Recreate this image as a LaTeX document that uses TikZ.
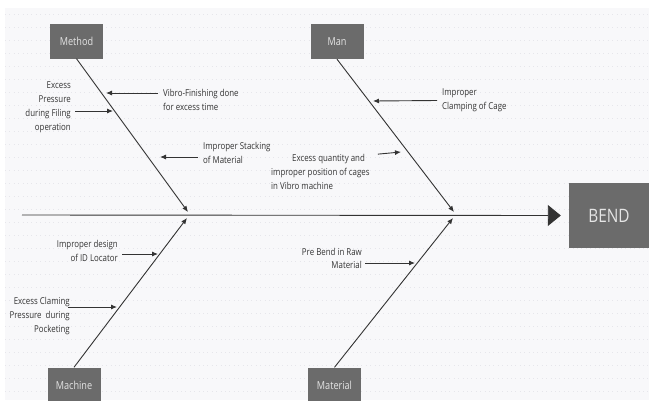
\documentclass[tikz,border=0pt]{standalone}
\usepackage{fontspec}
\setmainfont{Open Sans}[FakeStretch=0.83]
\usepackage{tikz}
\usetikzlibrary{arrows.meta, positioning}
\definecolor{boxgray}{HTML}{6B6B6B}
\definecolor{inkgray}{HTML}{333333}
\definecolor{paper}{HTML}{F8F8FA}
\definecolor{dotgray}{HTML}{E6E6EB}

\begin{document}
\begin{tikzpicture}[x=1pt, y=-1pt,
    catbox/.style={fill=boxgray, text=white!90!black, minimum width=53pt, minimum height=35pt, inner sep=0pt, font=\fontsize{11}{13}\selectfont},
    cause/.style={inner sep=0pt, text=inkgray, font=\fontsize{9.5}{14}\selectfont},
    bone/.style={inkgray, line width=0.9pt, -{Latex[length=6pt, width=5pt]}},
    arr/.style={inkgray, line width=0.9pt, -{Latex[length=6pt, width=5pt]}}]
          \useasboundingbox (0,0) rectangle (649,400);
          \fill[paper] (5,8) rectangle (649,400);
          \foreach \y in {14,27,...,400}
            \draw[dotgray, line width=0.8pt, dash pattern=on 0.8pt off 3.6pt] (5,\y)--(649,\y);
          % Category boxes
          \node[catbox] (method) at (76.5,41) {Method};
          \node[catbox] (man) at (337,41.5) {Man};
          \node[catbox] (machine) at (74,385) {Machine};
          \node[catbox] (material) at (334.5,385) {Material};
          \node[catbox, minimum width=80pt, minimum height=65pt, font=\fontsize{18.5}{20}\selectfont] (bend) at (609,215.5) {BEND};
          % Spine
          \coordinate (tail) at (22,215);
          \draw[inkgray, line width=0.9pt, -{Triangle[length=13pt, width=21pt]}] (tail) -- ([xshift=-8pt]bend.west);
          % Bones
          \coordinate (jmethod) at (188,212);
          \coordinate (jman) at (454,212);
          \coordinate (jmachine) at (187,218);
          \coordinate (jmaterial) at (453,218);
          \draw[bone] (method.south) -- (jmethod);
          \draw[bone] (man.south) -- (jman);
          \draw[bone] (machine.north) -- (jmachine);
          \draw[bone] (material.north) -- (jmaterial);
          % Method causes
          \node[cause, anchor=west, align=left] (vibro) at (163,100) {Vibro-Finishing done\\for excess time};
          \node[cause, anchor=east, align=right] (filing) at (71,107.5) {Excess\\Pressure\\during Filing\\operation};
          \node[cause, anchor=west, align=left] (stacking) at (203,153) {Improper Stacking\\of Material};
          \coordinate (tvibro) at (106,93);
          \coordinate (tfiling) at (113,111);
          \coordinate (tstacking) at (160,157);
          \draw[arr] ([xshift=-5pt, yshift=7pt]vibro.west) -- (tvibro);
          \draw[arr] ([xshift=4pt, yshift=-3.5pt]filing.east) -- (tfiling);
          \draw[arr] ([xshift=-5pt, yshift=-4pt]stacking.west) -- (tstacking);
          % Man causes
          \node[cause, anchor=west, align=left] (clamping) at (442,100.5) {Improper\\Clamping of Cage};
          \node[cause, anchor=west, align=left] (quantity) at (271,172) {\hspace*{21pt}Excess quantity and\\improper position of cages\\in Vibro machine};
          \coordinate (tclamping) at (373,101);
          \coordinate (tquantity) at (401,152);
          \draw[arr] ([xshift=-5pt]clamping.west) -- (tclamping);
          \draw[arr] ([xshift=8pt]quantity.north east) -- (tquantity);
          % Machine causes
          \node[cause, anchor=east, align=right] (locator) at (118,250.5) {Improper design\\of ID Locator};
          \node[cause, anchor=east, align=right] (claming) at (70,316) {Excess Claming\\Pressure\ \ during\\Pocketing};
          \coordinate (tlocator) at (158,254);
          \coordinate (tclaming) at (117,307);
          \draw[arr] ([xshift=4pt, yshift=-3.5pt]locator.east) -- (tlocator);
          \draw[arr] ([xshift=-2pt, yshift=9pt]claming.east) -- (tclaming);
          % Material causes
          \node[cause, anchor=east, align=right, font=\fontsize{9.5}{13}\selectfont] (prebend) at (362,258.5) {Pre Bend in Raw\\Material};
          \coordinate (tprebend) at (415,263);
          \draw[arr] ([xshift=3pt, yshift=-4.5pt]prebend.east) -- (tprebend);
        \end{tikzpicture}
\end{document}
